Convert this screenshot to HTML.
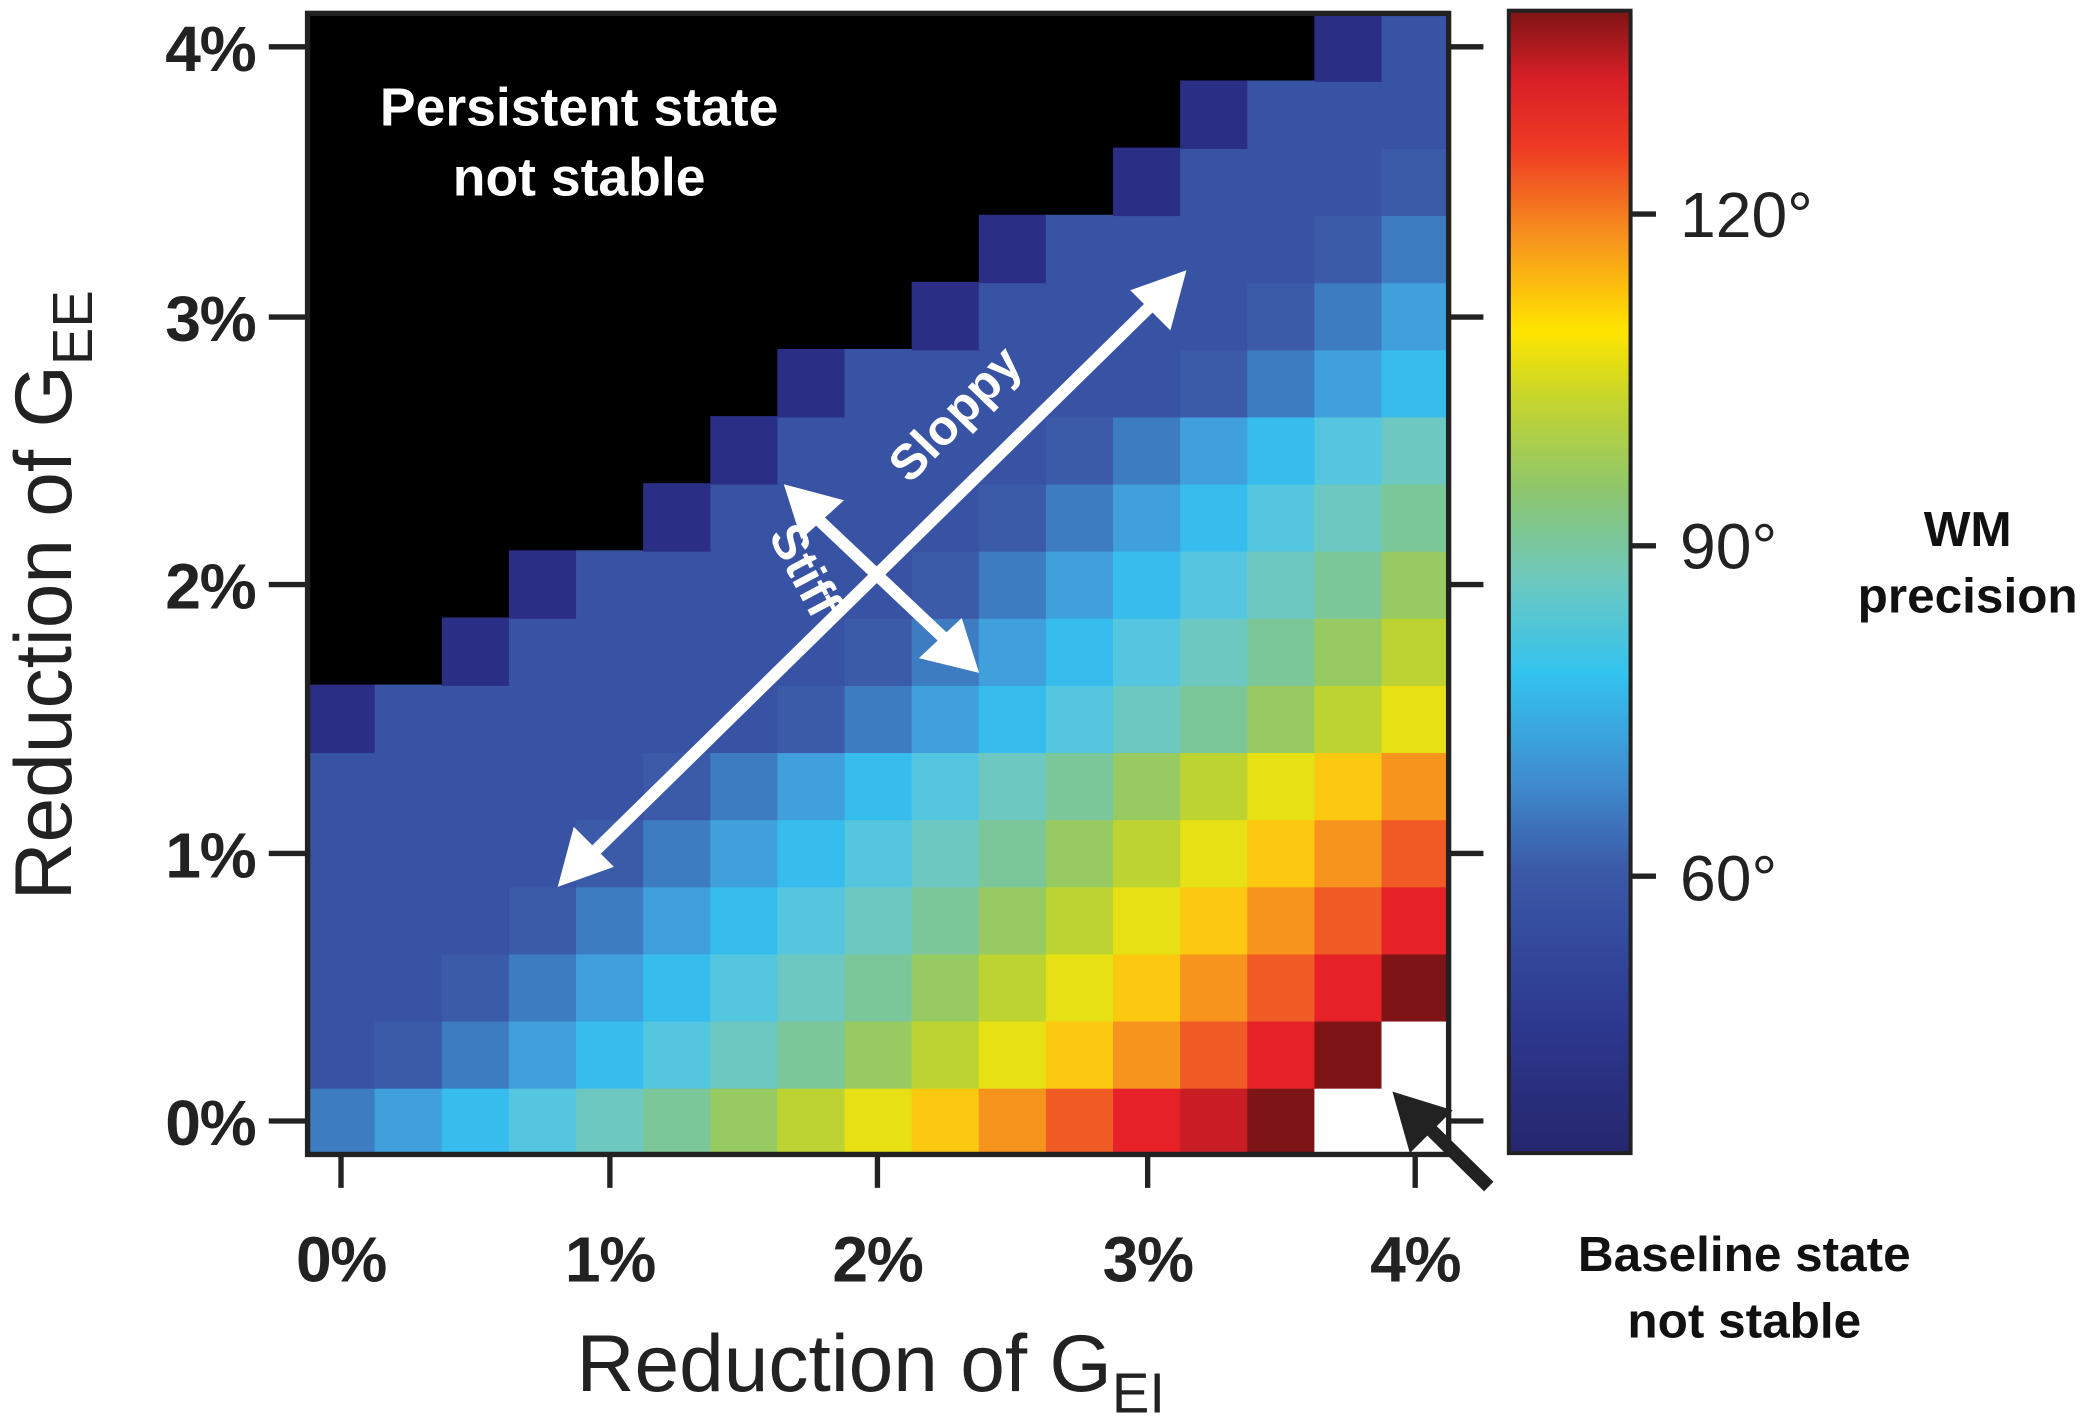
<!DOCTYPE html>
<html><head><meta charset="utf-8"><style>
html,body{margin:0;padding:0;background:#fff;width:2100px;height:1426px;overflow:hidden}
svg{display:block}
text{font-family:"Liberation Sans",Arial,sans-serif}
.k2{fill:#2a2f85}.k4{fill:#3853a3}.k5{fill:#3b5aa8}.k6{fill:#3e7cc2}.k7{fill:#40a0dc}.k8{fill:#36bdee}.k9{fill:#55c6df}.k10{fill:#6cc8c0}.k11{fill:#7cc79a}.k12{fill:#98ca62}.k13{fill:#bdd332}.k14{fill:#e6e014}.k15{fill:#fcc810}.k16{fill:#f7941d}.k17{fill:#f05a24}.k18{fill:#e62228}.k19{fill:#c81d22}.k20{fill:#7f1416}.w{fill:#fff}
</style></head><body>
<svg width="2100" height="1426" viewBox="0 0 1568 1066" xmlns="http://www.w3.org/2000/svg">
<defs>
<linearGradient id="cb" x1="0" y1="1" x2="0" y2="0">
<stop offset="0" stop-color="#26266e"/>
<stop offset="0.12" stop-color="#2d3a90"/>
<stop offset="0.25" stop-color="#3b5aa8"/>
<stop offset="0.33" stop-color="#3f8fd0"/>
<stop offset="0.42" stop-color="#33c3ef"/>
<stop offset="0.5" stop-color="#6cc8c0"/>
<stop offset="0.58" stop-color="#8dc66e"/>
<stop offset="0.66" stop-color="#c6d52d"/>
<stop offset="0.72" stop-color="#ffe500"/>
<stop offset="0.8" stop-color="#f7941d"/>
<stop offset="0.88" stop-color="#ee3a24"/>
<stop offset="0.94" stop-color="#d81f26"/>
<stop offset="1" stop-color="#7f1416"/>
</linearGradient>
</defs>
<svg x="229" y="10" width="853" height="853" viewBox="0 0 17 17" preserveAspectRatio="none">
<rect x="0" y="0" width="17" height="17" fill="#000"/>
<rect x="0" y="16" width="1.02" height="1.02" class="k6"/><rect x="1" y="16" width="1.02" height="1.02" class="k7"/><rect x="2" y="16" width="1.02" height="1.02" class="k8"/><rect x="3" y="16" width="1.02" height="1.02" class="k9"/><rect x="4" y="16" width="1.02" height="1.02" class="k10"/><rect x="5" y="16" width="1.02" height="1.02" class="k11"/><rect x="6" y="16" width="1.02" height="1.02" class="k12"/><rect x="7" y="16" width="1.02" height="1.02" class="k13"/><rect x="8" y="16" width="1.02" height="1.02" class="k14"/><rect x="9" y="16" width="1.02" height="1.02" class="k15"/><rect x="10" y="16" width="1.02" height="1.02" class="k16"/><rect x="11" y="16" width="1.02" height="1.02" class="k17"/><rect x="12" y="16" width="1.02" height="1.02" class="k18"/><rect x="13" y="16" width="1.02" height="1.02" class="k19"/><rect x="14" y="16" width="1.02" height="1.02" class="k20"/><rect x="15" y="16" width="2" height="1.02" class="w"/>
<rect x="0" y="15" width="1.02" height="1.02" class="k4"/><rect x="1" y="15" width="1.02" height="1.02" class="k5"/><rect x="2" y="15" width="1.02" height="1.02" class="k6"/><rect x="3" y="15" width="1.02" height="1.02" class="k7"/><rect x="4" y="15" width="1.02" height="1.02" class="k8"/><rect x="5" y="15" width="1.02" height="1.02" class="k9"/><rect x="6" y="15" width="1.02" height="1.02" class="k10"/><rect x="7" y="15" width="1.02" height="1.02" class="k11"/><rect x="8" y="15" width="1.02" height="1.02" class="k12"/><rect x="9" y="15" width="1.02" height="1.02" class="k13"/><rect x="10" y="15" width="1.02" height="1.02" class="k14"/><rect x="11" y="15" width="1.02" height="1.02" class="k15"/><rect x="12" y="15" width="1.02" height="1.02" class="k16"/><rect x="13" y="15" width="1.02" height="1.02" class="k17"/><rect x="14" y="15" width="1.02" height="1.02" class="k18"/><rect x="15" y="15" width="1.02" height="1.02" class="k20"/><rect x="16" y="15" width="1" height="1.02" class="w"/>
<rect x="0" y="14" width="2.02" height="1.02" class="k4"/><rect x="2" y="14" width="1.02" height="1.02" class="k5"/><rect x="3" y="14" width="1.02" height="1.02" class="k6"/><rect x="4" y="14" width="1.02" height="1.02" class="k7"/><rect x="5" y="14" width="1.02" height="1.02" class="k8"/><rect x="6" y="14" width="1.02" height="1.02" class="k9"/><rect x="7" y="14" width="1.02" height="1.02" class="k10"/><rect x="8" y="14" width="1.02" height="1.02" class="k11"/><rect x="9" y="14" width="1.02" height="1.02" class="k12"/><rect x="10" y="14" width="1.02" height="1.02" class="k13"/><rect x="11" y="14" width="1.02" height="1.02" class="k14"/><rect x="12" y="14" width="1.02" height="1.02" class="k15"/><rect x="13" y="14" width="1.02" height="1.02" class="k16"/><rect x="14" y="14" width="1.02" height="1.02" class="k17"/><rect x="15" y="14" width="1.02" height="1.02" class="k18"/><rect x="16" y="14" width="1" height="1.02" class="k20"/>
<rect x="0" y="13" width="3.02" height="1.02" class="k4"/><rect x="3" y="13" width="1.02" height="1.02" class="k5"/><rect x="4" y="13" width="1.02" height="1.02" class="k6"/><rect x="5" y="13" width="1.02" height="1.02" class="k7"/><rect x="6" y="13" width="1.02" height="1.02" class="k8"/><rect x="7" y="13" width="1.02" height="1.02" class="k9"/><rect x="8" y="13" width="1.02" height="1.02" class="k10"/><rect x="9" y="13" width="1.02" height="1.02" class="k11"/><rect x="10" y="13" width="1.02" height="1.02" class="k12"/><rect x="11" y="13" width="1.02" height="1.02" class="k13"/><rect x="12" y="13" width="1.02" height="1.02" class="k14"/><rect x="13" y="13" width="1.02" height="1.02" class="k15"/><rect x="14" y="13" width="1.02" height="1.02" class="k16"/><rect x="15" y="13" width="1.02" height="1.02" class="k17"/><rect x="16" y="13" width="1" height="1.02" class="k18"/>
<rect x="0" y="12" width="4.02" height="1.02" class="k4"/><rect x="4" y="12" width="1.02" height="1.02" class="k5"/><rect x="5" y="12" width="1.02" height="1.02" class="k6"/><rect x="6" y="12" width="1.02" height="1.02" class="k7"/><rect x="7" y="12" width="1.02" height="1.02" class="k8"/><rect x="8" y="12" width="1.02" height="1.02" class="k9"/><rect x="9" y="12" width="1.02" height="1.02" class="k10"/><rect x="10" y="12" width="1.02" height="1.02" class="k11"/><rect x="11" y="12" width="1.02" height="1.02" class="k12"/><rect x="12" y="12" width="1.02" height="1.02" class="k13"/><rect x="13" y="12" width="1.02" height="1.02" class="k14"/><rect x="14" y="12" width="1.02" height="1.02" class="k15"/><rect x="15" y="12" width="1.02" height="1.02" class="k16"/><rect x="16" y="12" width="1" height="1.02" class="k17"/>
<rect x="0" y="11" width="5.02" height="1.02" class="k4"/><rect x="5" y="11" width="1.02" height="1.02" class="k5"/><rect x="6" y="11" width="1.02" height="1.02" class="k6"/><rect x="7" y="11" width="1.02" height="1.02" class="k7"/><rect x="8" y="11" width="1.02" height="1.02" class="k8"/><rect x="9" y="11" width="1.02" height="1.02" class="k9"/><rect x="10" y="11" width="1.02" height="1.02" class="k10"/><rect x="11" y="11" width="1.02" height="1.02" class="k11"/><rect x="12" y="11" width="1.02" height="1.02" class="k12"/><rect x="13" y="11" width="1.02" height="1.02" class="k13"/><rect x="14" y="11" width="1.02" height="1.02" class="k14"/><rect x="15" y="11" width="1.02" height="1.02" class="k15"/><rect x="16" y="11" width="1" height="1.02" class="k16"/>
<rect x="0" y="10" width="1.02" height="1.02" class="k2"/><rect x="1" y="10" width="6.02" height="1.02" class="k4"/><rect x="7" y="10" width="1.02" height="1.02" class="k5"/><rect x="8" y="10" width="1.02" height="1.02" class="k6"/><rect x="9" y="10" width="1.02" height="1.02" class="k7"/><rect x="10" y="10" width="1.02" height="1.02" class="k8"/><rect x="11" y="10" width="1.02" height="1.02" class="k9"/><rect x="12" y="10" width="1.02" height="1.02" class="k10"/><rect x="13" y="10" width="1.02" height="1.02" class="k11"/><rect x="14" y="10" width="1.02" height="1.02" class="k12"/><rect x="15" y="10" width="1.02" height="1.02" class="k13"/><rect x="16" y="10" width="1" height="1.02" class="k14"/>
<rect x="2" y="9" width="1.02" height="1.02" class="k2"/><rect x="3" y="9" width="5.02" height="1.02" class="k4"/><rect x="8" y="9" width="1.02" height="1.02" class="k5"/><rect x="9" y="9" width="1.02" height="1.02" class="k6"/><rect x="10" y="9" width="1.02" height="1.02" class="k7"/><rect x="11" y="9" width="1.02" height="1.02" class="k8"/><rect x="12" y="9" width="1.02" height="1.02" class="k9"/><rect x="13" y="9" width="1.02" height="1.02" class="k10"/><rect x="14" y="9" width="1.02" height="1.02" class="k11"/><rect x="15" y="9" width="1.02" height="1.02" class="k12"/><rect x="16" y="9" width="1" height="1.02" class="k13"/>
<rect x="3" y="8" width="1.02" height="1.02" class="k2"/><rect x="4" y="8" width="5.02" height="1.02" class="k4"/><rect x="9" y="8" width="1.02" height="1.02" class="k5"/><rect x="10" y="8" width="1.02" height="1.02" class="k6"/><rect x="11" y="8" width="1.02" height="1.02" class="k7"/><rect x="12" y="8" width="1.02" height="1.02" class="k8"/><rect x="13" y="8" width="1.02" height="1.02" class="k9"/><rect x="14" y="8" width="1.02" height="1.02" class="k10"/><rect x="15" y="8" width="1.02" height="1.02" class="k11"/><rect x="16" y="8" width="1" height="1.02" class="k12"/>
<rect x="5" y="7" width="1.02" height="1.02" class="k2"/><rect x="6" y="7" width="4.02" height="1.02" class="k4"/><rect x="10" y="7" width="1.02" height="1.02" class="k5"/><rect x="11" y="7" width="1.02" height="1.02" class="k6"/><rect x="12" y="7" width="1.02" height="1.02" class="k7"/><rect x="13" y="7" width="1.02" height="1.02" class="k8"/><rect x="14" y="7" width="1.02" height="1.02" class="k9"/><rect x="15" y="7" width="1.02" height="1.02" class="k10"/><rect x="16" y="7" width="1" height="1.02" class="k11"/>
<rect x="6" y="6" width="1.02" height="1.02" class="k2"/><rect x="7" y="6" width="4.02" height="1.02" class="k4"/><rect x="11" y="6" width="1.02" height="1.02" class="k5"/><rect x="12" y="6" width="1.02" height="1.02" class="k6"/><rect x="13" y="6" width="1.02" height="1.02" class="k7"/><rect x="14" y="6" width="1.02" height="1.02" class="k8"/><rect x="15" y="6" width="1.02" height="1.02" class="k9"/><rect x="16" y="6" width="1" height="1.02" class="k10"/>
<rect x="7" y="5" width="1.02" height="1.02" class="k2"/><rect x="8" y="5" width="5.02" height="1.02" class="k4"/><rect x="13" y="5" width="1.02" height="1.02" class="k5"/><rect x="14" y="5" width="1.02" height="1.02" class="k6"/><rect x="15" y="5" width="1.02" height="1.02" class="k7"/><rect x="16" y="5" width="1" height="1.02" class="k8"/>
<rect x="9" y="4" width="1.02" height="1.02" class="k2"/><rect x="10" y="4" width="4.02" height="1.02" class="k4"/><rect x="14" y="4" width="1.02" height="1.02" class="k5"/><rect x="15" y="4" width="1.02" height="1.02" class="k6"/><rect x="16" y="4" width="1" height="1.02" class="k7"/>
<rect x="10" y="3" width="1.02" height="1.02" class="k2"/><rect x="11" y="3" width="4.02" height="1.02" class="k4"/><rect x="15" y="3" width="1.02" height="1.02" class="k5"/><rect x="16" y="3" width="1" height="1.02" class="k6"/>
<rect x="12" y="2" width="1.02" height="1.02" class="k2"/><rect x="13" y="2" width="3.02" height="1.02" class="k4"/><rect x="16" y="2" width="1" height="1.02" class="k5"/>
<rect x="13" y="1" width="1.02" height="1.02" class="k2"/><rect x="14" y="1" width="3" height="1.02" class="k4"/>
<rect x="15" y="0" width="1.02" height="1.02" class="k2"/><rect x="16" y="0" width="1" height="1.02" class="k4"/>
</svg>
<rect x="229" y="10" width="853" height="853" fill="none" stroke="#222" stroke-width="4"/>
<g stroke="#222" stroke-width="4">
<line x1="200" y1="35" x2="229" y2="35"/><line x1="200" y1="237" x2="229" y2="237"/><line x1="200" y1="437" x2="229" y2="437"/><line x1="200" y1="638" x2="229" y2="638"/><line x1="200" y1="838" x2="229" y2="838"/>
<line x1="1082" y1="35" x2="1108" y2="35"/><line x1="1082" y1="237" x2="1108" y2="237"/><line x1="1082" y1="437" x2="1108" y2="437"/><line x1="1082" y1="638" x2="1108" y2="638"/><line x1="1082" y1="838" x2="1108" y2="838"/>
<line x1="254" y1="863" x2="254" y2="888"/><line x1="455" y1="863" x2="455" y2="888"/><line x1="655" y1="863" x2="655" y2="888"/><line x1="857" y1="863" x2="857" y2="888"/><line x1="1057" y1="863" x2="1057" y2="888"/>
</g>
<g font-size="48" fill="#222" text-anchor="end" font-weight="bold" style="letter-spacing:-1px">
<text x="190" y="53">4%</text><text x="190" y="255">3%</text><text x="190" y="455">2%</text><text x="190" y="656">1%</text><text x="190" y="856">0%</text>
</g>
<g font-size="48" fill="#222" text-anchor="middle" font-weight="bold" style="letter-spacing:-1px">
<text x="254" y="958">0%</text><text x="455" y="958">1%</text><text x="655" y="958">2%</text><text x="857" y="958">3%</text><text x="1057" y="958">4%</text>
</g>
<text x="650" y="1040" font-size="60" fill="#222" text-anchor="middle">Reduction of G<tspan font-size="42" dy="16">EI</tspan></text>
<text transform="translate(52,445) rotate(-90)" font-size="60" fill="#222" text-anchor="middle">Reduction of G<tspan font-size="42" dy="16">EE</tspan></text>
<rect x="1127" y="8" width="91" height="854" fill="url(#cb)" stroke="#222" stroke-width="3"/>
<g stroke="#222" stroke-width="4">
<line x1="1218" y1="160" x2="1237" y2="160"/><line x1="1218" y1="408" x2="1237" y2="408"/><line x1="1218" y1="655" x2="1237" y2="655"/>
</g>
<g font-size="48" fill="#222">
<text x="1255" y="177">120°</text><text x="1255" y="425">90°</text><text x="1255" y="673">60°</text>
</g>
<g font-size="37" font-weight="bold" fill="#111" text-anchor="middle">
<text x="1470" y="408">WM</text><text x="1470" y="458">precision</text>
<text x="1303" y="950">Baseline state</text><text x="1303" y="1000">not stable</text>
</g>
<g font-size="40" font-weight="bold" fill="#fff" text-anchor="middle">
<text x="432" y="94">Persistent state</text><text x="432" y="146">not stable</text>
</g>
<g font-size="37" font-weight="bold" fill="#fff" text-anchor="middle">
<text transform="translate(722,318) rotate(-46)">Sloppy</text>
<text transform="translate(590,432) rotate(62)">Stiff</text>
</g>
<g stroke="#fff" stroke-width="9" fill="none">
<line x1="440" y1="640" x2="862" y2="226"/>
<line x1="603" y1="381" x2="712" y2="484"/>
</g>
<g fill="#fff">
<polygon points="416,663 428,618 458,648"/>
<polygon points="886,202 874,247 844,217"/>
<polygon points="585,362 630,374 598,403"/>
<polygon points="731,503 686,492 718,462"/>
</g>
<line x1="1112" y1="887" x2="1058" y2="834" stroke="#222" stroke-width="10"/>
<polygon points="1040,816 1085,830 1053,862" fill="#222"/>
</svg>
</body></html>
